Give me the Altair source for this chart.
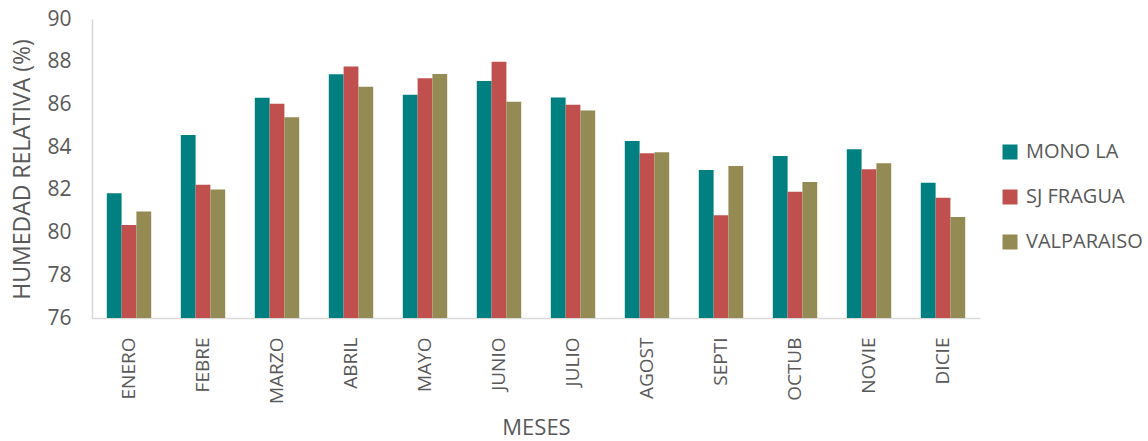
import altair as alt
import pandas as pd

meses = ["ENERO", "FEBRE", "MARZO", "ABRIL", "MAYO", "JUNIO",
         "JULIO", "AGOST", "SEPTI", "OCTUB", "NOVIE", "DICIE"]
series = ["MONO LA", "SJ FRAGUA", "VALPARAISO"]

mono_la = [81.84, 84.57, 86.31, 87.41, 86.45, 87.10, 86.33, 84.29, 82.93, 83.58, 83.90, 82.33]
sj_fragua = [80.35, 82.24, 86.03, 87.78, 87.22, 88.00, 85.99, 83.71, 80.81, 81.91, 82.96, 81.63]
valparaiso = [80.99, 82.02, 85.40, 86.83, 87.42, 86.13, 85.71, 83.76, 83.12, 82.37, 83.24, 80.73]

colores = ["#008080", "#C0504D", "#948A54"]

rows = []
for nombre, valores in zip(series, [mono_la, sj_fragua, valparaiso]):
    for mes, v in zip(meses, valores):
        rows.append({"mes": mes, "estacion": nombre, "hr": v})
df = pd.DataFrame(rows)

FONT = "Open Sans"
GRIS = "#595959"

chart = alt.Chart(df).mark_bar(clip=True).encode(
    x=alt.X("mes:N", sort=meses,
            scale=alt.Scale(paddingInner=0, paddingOuter=0),
            axis=alt.Axis(title="MESES", labelAngle=-90, labelAlign="right",
                          labelBaseline="middle", labelPadding=19,
                          labelFontSize=19, labelColor=GRIS, labelFont=FONT,
                          ticks=False, domainColor="#D9D9D9", domainWidth=1.5,
                          titleFont=FONT, titleFontSize=22, titleFontWeight="normal",
                          titleColor=GRIS, titleX=444, titleY=109,
                          titleBaseline="middle", titleAlign="center")),
    xOffset=alt.XOffset("estacion:N", sort=series,
                        scale=alt.Scale(paddingInner=0, paddingOuter=1.0)),
    y=alt.Y("hr:Q", scale=alt.Scale(domain=[76, 90], zero=False, nice=False),
            axis=alt.Axis(title="HUMEDAD RELATIVA (%)", values=list(range(76, 91, 2)),
                          grid=False, ticks=False, labelPadding=21,
                          labelFontSize=21, labelColor=GRIS, labelFont=FONT,
                          domainColor="#D9D9D9", domainWidth=1.5,
                          titleFont=FONT, titleFontSize=23, titleFontWeight="normal",
                          titleColor=GRIS, titleAngle=270, titleX=-70, titleY=150,
                          titleAlign="center", titleBaseline="middle")),
    color=alt.Color("estacion:N", sort=series,
                    scale=alt.Scale(domain=series, range=colores),
                    legend=alt.Legend(title=None, orient="none", legendX=908, legendY=123,
                                      symbolType="square", symbolSize=225,
                                      symbolStrokeWidth=0, labelFontSize=20,
                                      labelFont=FONT, labelColor=GRIS,
                                      rowPadding=25, labelOffset=6)),
).properties(
    width=888, height=299,
    background="white",
    autosize=alt.AutoSizeParams(type="none"),
    padding={"left": 92, "top": 19, "right": 168, "bottom": 123},
).configure_view(stroke=None)

chart.save("out.html", embed_options={"renderer": "svg", "actions": False})
